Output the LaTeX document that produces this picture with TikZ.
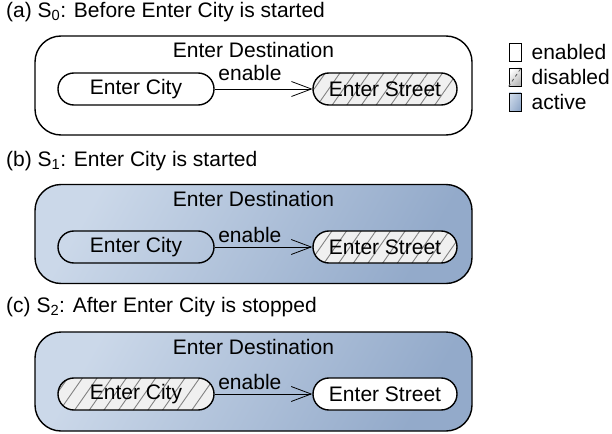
\documentclass[tikz,border=0pt]{standalone}
\usepackage{fontspec}
\setmainfont{Liberation Sans}
\usetikzlibrary{arrows.meta}
\usetikzlibrary{patterns.meta}
\usetikzlibrary{positioning}
\definecolor{act-light}{RGB}{203, 216, 233}
\definecolor{act-dark}{RGB}{147, 170, 202}
\definecolor{dis-fill}{RGB}{240, 240, 240}
\definecolor{dis-hatch}{RGB}{130, 130, 130}

\tikzset{
  txt/.style={font=\fontsize{21}{25}\selectfont, inner sep=1pt},
  outerbox/.style={draw=black, line width=1.4pt, rounded corners=26pt,
    minimum width=437pt, minimum height=99pt, inner sep=0pt},
  activefill/.style={left color=act-light, right color=act-dark, shading angle=60},
  taskbox/.style={txt, draw=black, line width=1.4pt, rounded corners=15.9pt,
    minimum height=32pt, inner sep=0pt},
  enabledst/.style={taskbox, fill=white},
  disabledst/.style={taskbox, preaction={fill=dis-fill},
    pattern={Lines[angle=55, distance=12pt, line width=0.9pt]}, pattern color=dis-hatch},
  citybox/.style={minimum width=156pt},
  streetbox/.style={minimum width=144pt},
  flow/.style={line width=0.8pt, -{Straight Barb[length=20pt, width=15pt, line width=0.8pt]}},
  keybox/.style={draw=black, line width=0.8pt, minimum width=12pt, minimum height=18pt, inner sep=0pt},
}

\begin{document}
\begin{tikzpicture}[x=1pt, y=-1pt]
\useasboundingbox (0,0) rectangle (612,433);
% (a) before Enter City
\node[txt, anchor=west] (titleA) at (5,12) {(a) S\textsubscript{0}: Before Enter City is started};
\node[outerbox, fill=white] (destA) at (253.5,85.5) {};
\node[txt] (destLblA) at (253.5,50) {Enter Destination};
\node[enabledst, citybox] (cityA) at (136,89) {Enter City};
\node[disabledst, streetbox] (streetA) at (385,89) {Enter Street};
\draw[flow] (cityA) -- node[txt, pos=0.36, above=7pt] (enA) {enable} (streetA);

% legend
\node[keybox, fill=white] (keyEn) at (515,52) {};
\node[txt, right=9pt of keyEn] (keyEnTxt) {enabled};
\node[keybox, left color=white, right color=gray!55, shading angle=45] (keyDis) at (515,77) {};
\draw[dis-hatch!70!black, line width=0.8pt, dashed] (keyDis.south west) -- (keyDis.north east);
\node[txt, right=9pt of keyDis] (keyDisTxt) {disabled};
\node[keybox, activefill] (keyAct) at (515,102) {};
\node[txt, right=9pt of keyAct] (keyActTxt) {active};

% (b) Enter City started
\node[txt, anchor=west] (titleB) at (5,161) {(b) S\textsubscript{1}: Enter City is started};
\node[outerbox, activefill] (destB) at (253.5,234) {};
\node[txt] (destLblB) at (253.5,199) {Enter Destination};
\node[enabledst, citybox, fill=none] (cityB) at (136,247) {Enter City};
\node[disabledst, streetbox] (streetB) at (385,247) {Enter Street};
\draw[flow] (cityB) -- node[txt, pos=0.36, above=3pt] (enB) {enable} (streetB);

% (c) after Enter City stopped
\node[txt, anchor=west] (titleC) at (5,307) {(c) S\textsubscript{2}: After Enter City is stopped};
\node[outerbox, activefill] (destC) at (253.5,381.5) {};
\node[txt] (destLblC) at (253.5,347) {Enter Destination};
\node[disabledst, citybox] (cityC) at (136,394) {Enter City};
\node[enabledst, streetbox] (streetC) at (385,394) {Enter Street};
\draw[flow] (cityC) -- node[txt, pos=0.36, above=3pt] (enC) {enable} (streetC);
\end{tikzpicture}
\end{document}
